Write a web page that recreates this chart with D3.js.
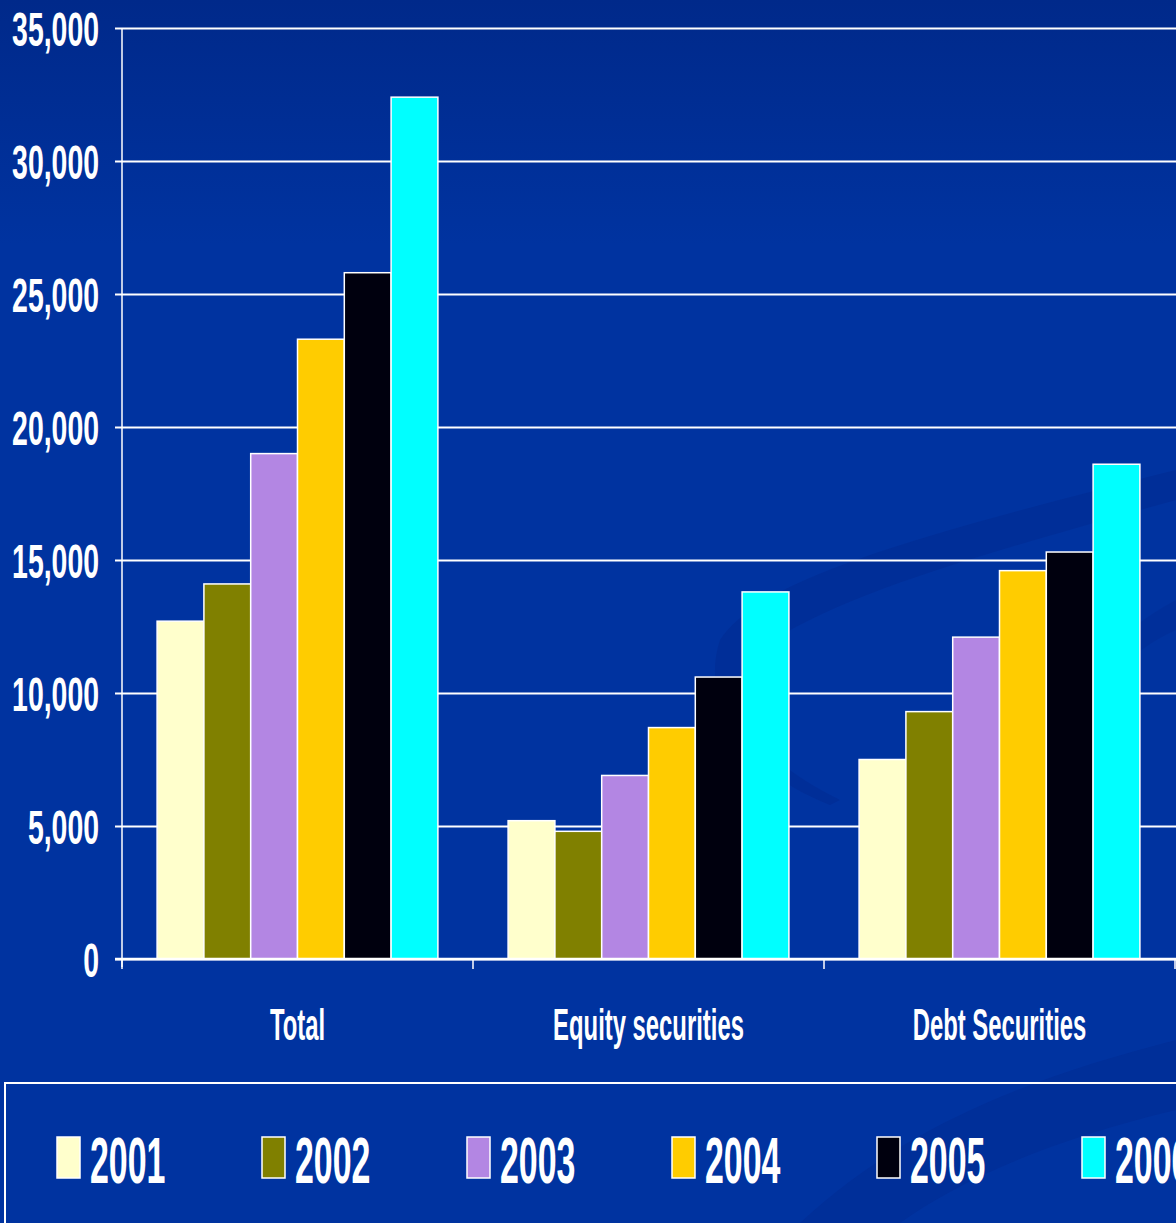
<!DOCTYPE html>
<html>
<head>
<meta charset="utf-8">
<script src="https://cdn.jsdelivr.net/npm/d3@7"></script>
<style>
  html, body { margin: 0; padding: 0; background: #0033a0; overflow: hidden; }
  svg { display: block; }
  text { font-family: "Liberation Sans", Arial, sans-serif; font-weight: bold; fill: #ffffff; }
</style>
</head>
<body>
<svg id="chart" width="1176" height="1223"></svg>
<script>
// Holdings by category and year
const categories = ["Total", "Equity securities", "Debt Securities"];
const years = ["2001", "2002", "2003", "2004", "2005", "2006"];
const totalValues  = [12700, 14100, 19000, 23300, 25800, 32400];
const equityValues = [5200, 4800, 6900, 8700, 10600, 13800];
const debtValues   = [7500, 9300, 12100, 14600, 15300, 18600];
const yTickValues  = [0, 5000, 10000, 15000, 20000, 25000, 30000, 35000];
const yearColors   = ["#ffffcc", "#808000", "#b386e3", "#ffcc00", "#00000e", "#00ffff"];

const seriesByCategory = [totalValues, equityValues, debtValues];
const rows = categories.map((c, ci) => ({
  category: c,
  values: years.map((y, yi) => ({ year: y, value: seriesByCategory[ci][yi] }))
}));

const W = 1176, H = 1223;
const svg = d3.select("#chart");

// Background: deep blue, a little darker at the top, with faint swooshes
const defs = svg.append("defs");
const bg = defs.append("linearGradient").attr("id", "bg")
  .attr("x1", "0").attr("y1", "0").attr("x2", "0").attr("y2", "1");
bg.append("stop").attr("offset", "0").attr("stop-color", "#00298a");
bg.append("stop").attr("offset", "0.2").attr("stop-color", "#0033a0");
bg.append("stop").attr("offset", "1").attr("stop-color", "#0033a0");
svg.append("rect").attr("width", W).attr("height", H).attr("fill", "url(#bg)");

svg.append("path")
  .attr("d", "M720,640 C760,580 900,540 1176,470 L1176,500 C960,560 820,600 745,660 C730,720 760,760 840,800 L830,805 C740,770 700,700 720,640 Z")
  .attr("fill", "#002a90").attr("opacity", 0.5);
svg.append("path")
  .attr("d", "M800,1223 C900,1130 1020,1080 1176,1040 L1176,1110 C1050,1140 960,1180 900,1223 Z")
  .attr("fill", "#002a90").attr("opacity", 0.45);
svg.append("path")
  .attr("d", "M1176,600 C1100,640 1060,700 1090,780 L1100,775 C1080,710 1110,660 1176,630 Z")
  .attr("fill", "#002a90").attr("opacity", 0.4);

const plot = { left: 122, right: 1175, top: 28, bottom: 959 };

const y = d3.scaleLinear().domain([0, 35000]).range([plot.bottom, plot.top]);
const x0 = d3.scaleBand().domain(categories).range([plot.left, plot.right]).padding(0);
const x1 = d3.scaleBand().domain(years).range([0, x0.bandwidth()])
  .paddingInner(0).paddingOuter(0.75);
const color = d3.scaleOrdinal().domain(years).range(yearColors);

// Horizontal squeeze for the condensed lettering
const sxTick = 0.58, sxCat = 0.53, sxLegend = 0.53;

// Gridlines and left axis
const yAxis = d3.axisLeft(y).tickValues(yTickValues).tickFormat(d3.format(",")).tickSize(7).tickPadding(0);
const gy = svg.append("g").attr("transform", `translate(${plot.left},0)`).call(yAxis);
gy.select(".domain").remove();
gy.selectAll(".tick line").attr("stroke", "#ffffff").attr("stroke-width", 2);
gy.selectAll(".tick").append("line")
  .attr("x1", 0).attr("x2", W - plot.left)
  .attr("stroke", "#ffffff").attr("stroke-width", 2);
gy.selectAll(".tick text")
  .attr("fill", "#ffffff")
  .style("font-size", "49px")
  .attr("text-anchor", "end")
  .attr("dy", "0.36em")
  .attr("x", -23 / sxTick)
  .attr("transform", `scale(${sxTick},1)`);

svg.append("line")
  .attr("x1", plot.left).attr("x2", plot.left)
  .attr("y1", plot.top).attr("y2", plot.bottom + 8)
  .attr("stroke", "#ffffff").attr("stroke-width", 1.5);

// Bars
const groups = svg.append("g").selectAll("g").data(rows).join("g")
  .attr("transform", d => `translate(${x0(d.category)},0)`);
groups.selectAll("rect").data(d => d.values).join("rect")
  .attr("x", d => x1(d.year))
  .attr("y", d => y(d.value))
  .attr("width", x1.bandwidth())
  .attr("height", d => y(0) - y(d.value))
  .attr("fill", d => color(d.year))
  .attr("stroke", "#ffffff").attr("stroke-width", 1.5);

// Category axis
const xAxis = d3.axisBottom(x0).tickSize(0).tickPadding(0);
const gx = svg.append("g").attr("transform", `translate(0,${plot.bottom})`).call(xAxis);
gx.select(".domain").remove();
svg.append("line")
  .attr("x1", plot.left - 7).attr("x2", W)
  .attr("y1", plot.bottom).attr("y2", plot.bottom)
  .attr("stroke", "#ffffff").attr("stroke-width", 2.5);
const boundaries = categories.map(c => x0(c)).concat([x0.range()[1]]);
svg.append("g").selectAll("line").data(boundaries).join("line")
  .attr("x1", d => d).attr("x2", d => d)
  .attr("y1", plot.bottom).attr("y2", plot.bottom + 10)
  .attr("stroke", "#ffffff").attr("stroke-width", 1.5);
gx.selectAll(".tick text")
  .attr("fill", "#ffffff")
  .style("font-size", "45px")
  .attr("text-anchor", "middle")
  .attr("y", 81).attr("dy", 0)
  .attr("transform", `scale(${sxCat},1)`);
// keep each label centred under its band once the text is squeezed
gx.selectAll(".tick text").attr("x", function () {
  const tick = d3.select(this.parentNode);
  const m = /translate\(([-\d.]+)/.exec(tick.attr("transform"));
  const cx = m ? +m[1] : 0;
  tick.attr("transform", "translate(0,0)");
  return cx / sxCat;
});

// Legend
svg.append("rect")
  .attr("x", 5).attr("y", 1083).attr("width", W + 20).attr("height", 200)
  .attr("fill", "none").attr("stroke", "#ffffff").attr("stroke-width", 2);
const lx = d3.scalePoint().domain(years).range([57, 57 + 5 * 205]);
const legend = svg.append("g").selectAll("g").data(years).join("g")
  .attr("transform", d => `translate(${lx(d)},1137)`);
legend.append("rect")
  .attr("width", 23).attr("height", 41)
  .attr("fill", d => color(d))
  .attr("stroke", "#ffffff").attr("stroke-width", 1.5);
legend.append("text")
  .attr("transform", `translate(33,46) scale(${sxLegend},1)`)
  .style("font-size", "64px")
  .text(d => d);
</script>
</body>
</html>
